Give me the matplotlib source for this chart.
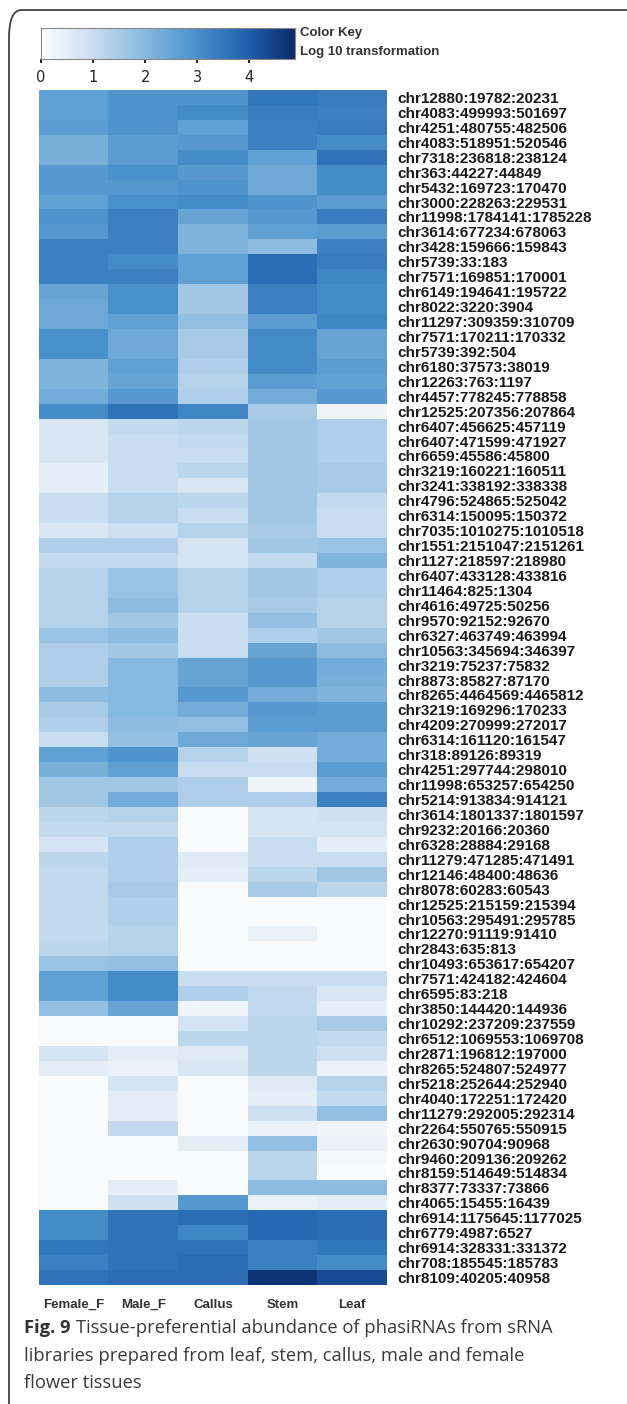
import numpy as np
import matplotlib.pyplot as plt
from matplotlib.colors import LinearSegmentedColormap
from matplotlib.patches import FancyBboxPatch

# phasiRNA loci (row order top to bottom)
loci = [
    'chr12880:19782:20231', 'chr4083:499993:501697', 'chr4251:480755:482506',
    'chr4083:518951:520546', 'chr7318:236818:238124', 'chr363:44227:44849',
    'chr5432:169723:170470', 'chr3000:228263:229531', 'chr11998:1784141:1785228',
    'chr3614:677234:678063', 'chr3428:159666:159843', 'chr5739:33:183',
    'chr7571:169851:170001', 'chr6149:194641:195722', 'chr8022:3220:3904',
    'chr11297:309359:310709', 'chr7571:170211:170332', 'chr5739:392:504',
    'chr6180:37573:38019', 'chr12263:763:1197', 'chr4457:778245:778858',
    'chr12525:207356:207864', 'chr6407:456625:457119', 'chr6407:471599:471927',
    'chr6659:45586:45800', 'chr3219:160221:160511', 'chr3241:338192:338338',
    'chr4796:524865:525042', 'chr6314:150095:150372', 'chr7035:1010275:1010518',
    'chr1551:2151047:2151261', 'chr1127:218597:218980', 'chr6407:433128:433816',
    'chr11464:825:1304', 'chr4616:49725:50256', 'chr9570:92152:92670',
    'chr6327:463749:463994', 'chr10563:345694:346397', 'chr3219:75237:75832',
    'chr8873:85827:87170', 'chr8265:4464569:4465812', 'chr3219:169296:170233',
    'chr4209:270999:272017', 'chr6314:161120:161547', 'chr318:89126:89319',
    'chr4251:297744:298010', 'chr11998:653257:654250', 'chr5214:913834:914121',
    'chr3614:1801337:1801597', 'chr9232:20166:20360', 'chr6328:28884:29168',
    'chr11279:471285:471491', 'chr12146:48400:48636', 'chr8078:60283:60543',
    'chr12525:215159:215394', 'chr10563:295491:295785', 'chr12270:91119:91410',
    'chr2843:635:813', 'chr10493:653617:654207', 'chr7571:424182:424604',
    'chr6595:83:218', 'chr3850:144420:144936', 'chr10292:237209:237559',
    'chr6512:1069553:1069708', 'chr2871:196812:197000', 'chr8265:524807:524977',
    'chr5218:252644:252940', 'chr4040:172251:172420', 'chr11279:292005:292314',
    'chr2264:550765:550915', 'chr2630:90704:90968', 'chr9460:209136:209262',
    'chr8159:514649:514834', 'chr8377:73337:73866', 'chr4065:15455:16439',
    'chr6914:1175645:1177025', 'chr6779:4987:6527', 'chr6914:328331:331372',
    'chr708:185545:185783', 'chr8109:40205:40958',
]

tissues = ['Female_F', 'Male_F', 'Callus', 'Stem', 'Leaf']

# log10 abundance per tissue, same row order as loci
female_f = [2.6, 2.6, 2.7, 2.2, 2.2, 2.8, 2.8, 2.6, 2.9, 2.8,
            3.3, 3.3, 3.3, 2.5, 2.4, 2.4, 3.0, 3.0, 2.1, 2.1,
            2.3, 3.1, 0.7, 0.7, 0.7, 0.5, 0.5, 1.0, 1.0, 0.7,
            1.4, 1.1, 1.3, 1.3, 1.3, 1.3, 1.7, 1.4, 1.4, 1.4,
            1.9, 1.5, 1.4, 1.0, 2.6, 2.2, 1.6, 1.6, 1.2, 1.1,
            0.8, 1.2, 1.1, 1.1, 1.1, 1.1, 1.1, 1.2, 1.7, 2.6,
            2.6, 1.8, 0.1, 0.1, 0.8, 0.5, 0.1, 0.1, 0.1, 0.1,
            0.1, 0.1, 0.1, 0.1, 0.1, 3.1, 3.1, 3.5, 3.3, 3.6]
male_f = [2.9, 2.9, 2.9, 2.7, 2.7, 3.0, 2.8, 3.0, 3.3, 3.3,
          3.3, 3.1, 3.3, 3.0, 3.0, 2.6, 2.4, 2.4, 2.6, 2.5,
          2.8, 3.6, 1.1, 1.0, 1.0, 1.0, 1.0, 1.3, 1.3, 0.9,
          1.4, 1.1, 1.7, 1.7, 1.9, 1.6, 1.9, 1.6, 2.0, 2.0,
          2.0, 2.0, 1.9, 1.8, 2.9, 2.6, 1.6, 2.3, 1.3, 1.1,
          1.4, 1.4, 1.4, 1.5, 1.4, 1.4, 1.3, 1.3, 1.8, 3.1,
          3.1, 2.5, 0.1, 0.1, 0.5, 0.4, 0.8, 0.5, 0.5, 1.1,
          0.1, 0.1, 0.1, 0.5, 0.9, 3.6, 3.6, 3.6, 3.6, 3.7]
callus = [2.9, 3.1, 2.6, 2.8, 3.1, 2.8, 2.9, 3.1, 2.5, 2.1,
          2.1, 2.6, 2.6, 1.6, 1.6, 1.8, 1.5, 1.5, 1.4, 1.3,
          1.4, 3.2, 1.2, 1.1, 1.0, 1.2, 0.7, 1.2, 1.0, 1.3,
          0.8, 0.8, 1.3, 1.3, 1.3, 1.0, 1.0, 1.0, 2.5, 2.5,
          2.8, 2.3, 1.8, 2.4, 1.3, 1.0, 1.4, 1.4, 0.1, 0.1,
          0.1, 0.6, 0.5, 0.1, 0.1, 0.1, 0.1, 0.1, 0.1, 1.0,
          1.4, 0.3, 0.8, 1.2, 0.6, 0.7, 0.1, 0.1, 0.1, 0.1,
          0.5, 0.1, 0.1, 0.1, 2.8, 3.7, 3.2, 3.6, 3.7, 3.7]
stem = [3.5, 3.4, 3.3, 3.3, 2.6, 2.4, 2.4, 2.9, 2.8, 2.6,
        1.9, 3.7, 3.7, 3.3, 3.3, 2.7, 3.1, 3.1, 3.1, 2.7,
        2.3, 1.5, 1.6, 1.6, 1.6, 1.6, 1.6, 1.6, 1.6, 1.5,
        1.6, 1.1, 1.6, 1.6, 1.5, 1.8, 1.4, 2.5, 2.8, 2.8,
        2.3, 2.8, 2.7, 2.5, 0.9, 1.0, 0.3, 1.4, 0.8, 0.8,
        1.0, 1.0, 1.2, 1.5, 0.1, 0.1, 0.4, 0.1, 0.1, 1.0,
        1.1, 1.1, 1.2, 1.2, 1.2, 1.2, 0.6, 0.5, 0.9, 0.4,
        1.8, 1.2, 1.2, 1.9, 0.4, 3.8, 3.8, 3.3, 3.3, 4.7]
leaf = [3.4, 3.3, 3.4, 3.1, 3.6, 3.1, 3.1, 2.7, 3.4, 2.7,
        3.3, 3.4, 3.2, 3.1, 3.1, 3.2, 2.5, 2.5, 2.7, 2.6,
        2.8, 0.3, 1.4, 1.4, 1.4, 1.5, 1.5, 1.1, 1.0, 1.0,
        1.7, 2.1, 1.4, 1.4, 1.3, 1.3, 1.6, 1.9, 2.3, 2.2,
        2.1, 2.7, 2.7, 2.3, 2.3, 2.7, 2.3, 3.3, 0.9, 0.8,
        0.5, 1.0, 1.6, 1.2, 0.1, 0.1, 0.1, 0.1, 0.1, 1.0,
        0.7, 0.5, 1.5, 1.1, 0.9, 0.4, 1.3, 1.1, 1.8, 0.3,
        0.4, 0.2, 0.1, 1.9, 0.5, 3.7, 3.7, 3.5, 3.1, 4.3]

key_ticks = [0, 1, 2, 3, 4]
vmax = 4.88

W, H = 627, 1404
fig = plt.figure(figsize=(W / 100, H / 100), dpi=100)
fig.patch.set_facecolor('white')


def px(x0, y0, x1, y1):
    # pixel box (top-left origin) -> figure fraction rect
    return [x0 / W, 1 - y1 / H, (x1 - x0) / W, (y1 - y0) / H]


cmap = LinearSegmentedColormap.from_list('key', [
    (0.0, '#ffffff'),
    (1.0 / vmax, '#c9ddf0'),
    (2.0 / vmax, '#86b9df'),
    (3.0 / vmax, '#4a90cb'),
    (4.0 / vmax, '#1e5fac'),
    (1.0, '#0b2a68'),
])

# rounded panel frame
frame = FancyBboxPatch((9 / W, -0.05), 1.2, 1 - 10 / H + 0.05,
                       boxstyle='round,pad=0,rounding_size=0.02',
                       transform=fig.transFigure, facecolor='none',
                       edgecolor='#444444', linewidth=1.3)
fig.patches.append(frame)

# heatmap
data = np.column_stack([female_f, male_f, callus, stem, leaf])
ax = fig.add_axes(px(39, 90, 387, 1285))
ax.imshow(data, cmap=cmap, vmin=0, vmax=vmax, aspect='auto',
          interpolation='nearest')
ax.set_xticks(range(len(tissues)))
ax.set_xticklabels(tissues, fontsize=9.5, fontweight='bold', color='#333333',
                   family='Liberation Sans')
ax.set_yticks(range(len(loci)))
ax.set_yticklabels(loci, fontsize=11, fontweight='bold', color='#1a1a1a',
                   family='Liberation Sans')
ax.yaxis.tick_right()
ax.tick_params(length=0, pad=7.5, axis='y')
ax.tick_params(length=0, pad=10, axis='x')
for s in ax.spines.values():
    s.set_visible(False)

# colour key
kax = fig.add_axes(px(41, 28, 295, 59))
grad = np.linspace(0, vmax, 256)[None, :]
kax.imshow(grad, cmap=cmap, vmin=0, vmax=vmax, aspect='auto',
           extent=[0, vmax, 0, 1])
kax.set_yticks([])
kax.set_xticks(key_ticks)
kax.set_xticklabels([str(t) for t in key_ticks], fontsize=10.5, color='#222222')
kax.tick_params(axis='x', length=3, width=1.2, pad=5)
for s in kax.spines.values():
    s.set_edgecolor('#888888')
    s.set_linewidth(0.8)

fig.text(300 / W, 1 - 33 / H, 'Color Key', fontsize=9.5, fontweight='bold',
         color='#333333', va='center', family='Liberation Sans')
fig.text(300 / W, 1 - 52 / H, 'Log 10 transformation', fontsize=9.5,
         fontweight='bold', color='#333333', va='center', family='Liberation Sans')

# figure caption
cap_y = 1 - 1328 / H
t = fig.text(24 / W, cap_y, 'Fig. 9', fontsize=13.2, fontweight='bold',
             color='#333333', va='center', family='Open Sans')
fig.canvas.draw()
bb = t.get_window_extent()
fig.text(bb.x1 / W + 5 / W, cap_y,
         'Tissue-preferential abundance of phasiRNAs from sRNA',
         fontsize=13.2, color='#3a3a3a', va='center', family='Open Sans')
fig.text(24 / W, 1 - 1356 / H, 'libraries prepared from leaf, stem, callus, male and female',
         fontsize=13.2, color='#3a3a3a', va='center', family='Open Sans')
fig.text(24 / W, 1 - 1383 / H, 'flower tissues',
         fontsize=13.2, color='#3a3a3a', va='center', family='Open Sans')

fig.savefig('out.png', dpi=100)
